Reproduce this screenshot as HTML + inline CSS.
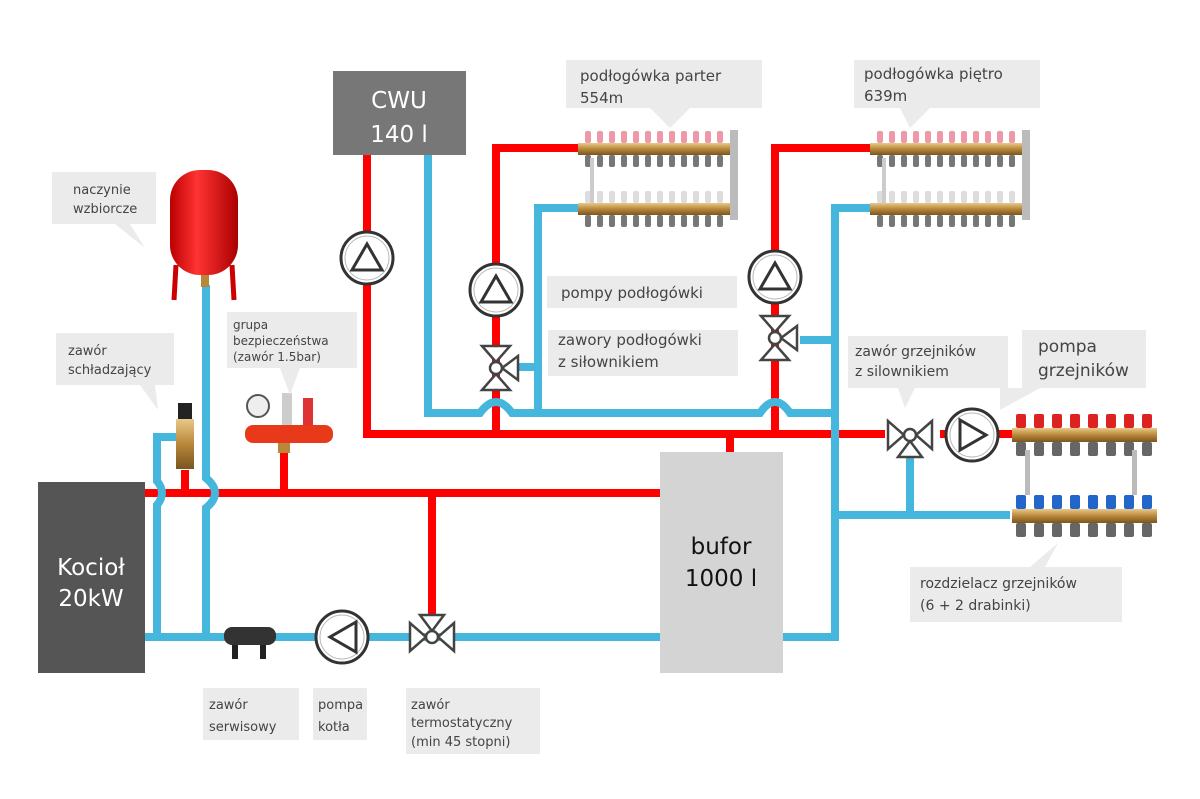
<!DOCTYPE html>
<html><head><meta charset="utf-8"><style>
body{margin:0;background:#fff}
svg{display:block;font-family:"DejaVu Sans","Liberation Sans",sans-serif}
</style></head><body>
<svg width="1200" height="799" viewBox="0 0 1200 799" xmlns="http://www.w3.org/2000/svg">
<defs>
<linearGradient id="brass" x1="0" y1="0" x2="0" y2="1"><stop offset="0" stop-color="#e8c98a"/><stop offset=".5" stop-color="#b8873a"/><stop offset="1" stop-color="#7a5520"/></linearGradient>
<linearGradient id="tank" x1="0" y1="0" x2="1" y2="0"><stop offset="0" stop-color="#b00"/><stop offset=".4" stop-color="#f33"/><stop offset="1" stop-color="#a00"/></linearGradient>
<g id="pump"><circle r="26" fill="#fff" stroke="#333" stroke-width="3"/><circle r="22" fill="none" stroke="#bbb" stroke-width="1"/></g>
<g id="valve" fill="#fff" stroke="#444" stroke-width="2.5"><path d="M-22,-14 L-6,0 L-22,14 Z"/><path d="M22,-14 L6,0 L22,14 Z"/><path d="M-12,22 L0,6 L12,22 Z"/><circle r="6"/></g>
<g id="knobs"><rect x="0" y="0" width="6" height="12" rx="2"/><rect x="12" y="0" width="6" height="12" rx="2"/><rect x="24" y="0" width="6" height="12" rx="2"/><rect x="36" y="0" width="6" height="12" rx="2"/><rect x="48" y="0" width="6" height="12" rx="2"/><rect x="60" y="0" width="6" height="12" rx="2"/><rect x="72" y="0" width="6" height="12" rx="2"/><rect x="84" y="0" width="6" height="12" rx="2"/><rect x="96" y="0" width="6" height="12" rx="2"/><rect x="108" y="0" width="6" height="12" rx="2"/><rect x="120" y="0" width="6" height="12" rx="2"/><rect x="132" y="0" width="6" height="12" rx="2"/></g>
<g id="k8"><rect x="0" y="0" width="10" height="14" rx="2"/><rect x="18" y="0" width="10" height="14" rx="2"/><rect x="36" y="0" width="10" height="14" rx="2"/><rect x="54" y="0" width="10" height="14" rx="2"/><rect x="72" y="0" width="10" height="14" rx="2"/><rect x="90" y="0" width="10" height="14" rx="2"/><rect x="108" y="0" width="10" height="14" rx="2"/><rect x="126" y="0" width="10" height="14" rx="2"/></g>
</defs>
<g fill="none" stroke-width="8">
<g stroke="#f00">
<path d="M145,493 H660"/>
<path d="M432,493 V615"/>
<path d="M284,448 V493"/>
<path d="M185,470 V493"/>
<path d="M367,155 V434 H885"/>
<path d="M730,434 V452"/>
<path d="M496,434 V148 H578"/>
<path d="M775,434 V148 H870"/>
<path d="M940,434 H1012"/>
</g>
<g stroke="#45b6dc">
<path d="M135,637 H660"/>
<path d="M778,637 H835 V410"/>
<path d="M157,637 V505 q10,-12 0,-24 V437 H178"/>
<path d="M206,285 V478 q18,15 0,30 V637"/>
<path d="M428,155 V413 H480 q16,-22 32,0 H760 q15,-22 30,0 H835"/>
<path d="M538,413 V208 H578"/>
<path d="M518,367 H538"/>
<path d="M835,413 V208 H870"/>
<path d="M800,340 H835"/>
<path d="M835,515 H1010"/>
<path d="M910,455 V515"/>
</g>
</g>
<rect x="38" y="482" width="107" height="191" fill="#555"/>
<text x="91" y="575" fill="#fff" font-size="23" text-anchor="middle">Kocioł</text>
<text x="91" y="606" fill="#fff" font-size="23" text-anchor="middle">20kW</text>
<rect x="333" y="71" width="133" height="84" fill="#777"/>
<text x="399" y="108" fill="#fff" font-size="23" text-anchor="middle">CWU</text>
<text x="399" y="142" fill="#fff" font-size="23" text-anchor="middle">140 l</text>
<rect x="660" y="452" width="123" height="221" fill="#d4d4d4"/>
<text x="721" y="554" fill="#111" font-size="23" text-anchor="middle">bufor</text>
<text x="721" y="586" fill="#111" font-size="23" text-anchor="middle">1000 l</text>
<rect x="170" y="170" width="68" height="105" rx="30" fill="url(#tank)"/>
<path d="M176,265 L174,300 M232,265 L234,300" stroke="#c00" stroke-width="5"/>
<rect x="201" y="275" width="8" height="12" fill="#b8873a"/>
<rect x="178" y="403" width="14" height="16" fill="#222"/>
<rect x="176" y="419" width="18" height="50" fill="url(#brass)"/>
<rect x="245" y="425" width="88" height="18" rx="8" fill="#e83a1a"/>
<circle cx="258" cy="406" r="11" fill="#eee" stroke="#555" stroke-width="2"/>
<rect x="282" y="393" width="10" height="32" fill="#ccc"/>
<rect x="303" y="398" width="10" height="27" fill="#d33"/>
<rect x="278" y="443" width="12" height="10" fill="#b8873a"/>
<rect x="224" y="627" width="52" height="18" rx="8" fill="#333"/>
<rect x="232" y="645" width="6" height="14" fill="#222"/><rect x="260" y="645" width="6" height="14" fill="#222"/>
<use href="#pump" x="367" y="258"/><path d="M352,270 L367,244 L382,270 Z" fill="none" stroke="#333" stroke-width="3"/>
<use href="#pump" x="496" y="290"/><path d="M481,302 L496,276 L511,302 Z" fill="none" stroke="#333" stroke-width="3"/>
<use href="#pump" x="775" y="277"/><path d="M760,289 L775,263 L790,289 Z" fill="none" stroke="#333" stroke-width="3"/>
<use href="#pump" x="972" y="435"/><path d="M960,420 L986,435 L960,450 Z" fill="none" stroke="#333" stroke-width="3"/>
<use href="#pump" x="342" y="637"/><path d="M356,622 L330,637 L356,652 Z" fill="none" stroke="#333" stroke-width="3"/>
<g transform="translate(496,368) rotate(-90)"><use href="#valve"/></g>
<g transform="translate(775,338) rotate(-90)"><use href="#valve"/></g>
<g transform="translate(910,435)"><use href="#valve"/></g>
<g transform="translate(432,637)"><use href="#valve" transform="scale(1,-1)"/></g>
<g id="mf1">
<rect x="578" y="143" width="155" height="12" fill="url(#brass)"/>
<rect x="578" y="203" width="155" height="12" fill="url(#brass)"/>
<rect x="730" y="130" width="8" height="90" fill="#bbb"/>
<use href="#knobs" x="585" y="131" fill="#e9a"/>
<use href="#knobs" x="585" y="191" fill="#ddd"/>
<use href="#knobs" x="585" y="155" fill="#777"/>
<use href="#knobs" x="585" y="215" fill="#777"/>
<rect x="590" y="158" width="4" height="45" fill="#ccc"/>
</g>
<use href="#mf1" x="292" y="0"/>
<rect x="1012" y="428" width="145" height="14" fill="url(#brass)"/>
<rect x="1012" y="509" width="145" height="14" fill="url(#brass)"/>
<use href="#k8" x="1016" y="414" fill="#d22"/>
<use href="#k8" x="1016" y="495" fill="#2266cc"/>
<use href="#k8" x="1016" y="442" fill="#666"/>
<use href="#k8" x="1016" y="523" fill="#666"/>
<rect x="1025" y="450" width="5" height="45" fill="#bbb"/><rect x="1132" y="450" width="5" height="45" fill="#bbb"/>
<g fill="#ebebeb">
<rect x="52" y="172" width="104" height="52"/><path d="M115,224 L145,248 L130,224Z"/>
<rect x="56" y="333" width="118" height="52"/><path d="M140,385 L158,410 L155,385Z"/>
<rect x="227" y="312" width="130" height="56"/><path d="M280,368 L290,395 L300,368Z"/>
<rect x="566" y="60" width="196" height="48"/><path d="M650,108 L670,128 L690,108Z"/>
<rect x="854" y="60" width="186" height="48"/><path d="M900,108 L910,128 L930,108Z"/>
<rect x="547" y="276" width="190" height="32"/>
<rect x="548" y="330" width="190" height="46"/>
<rect x="848" y="336" width="160" height="52"/><path d="M898,388 L905,408 L915,388Z"/>
<rect x="1022" y="330" width="124" height="58"/><path d="M1000,388 L1000,410 L1040,388Z"/>
<rect x="910" y="567" width="212" height="55"/><path d="M1030,567 L1058,543 L1045,567Z"/>
<rect x="203" y="688" width="96" height="52"/>
<rect x="313" y="688" width="54" height="52"/>
<rect x="406" y="688" width="134" height="66"/>
</g>
<g fill="#444" font-size="13">
<text x="73" y="194">naczynie</text><text x="73" y="213">wzbiorcze</text>
<text x="68" y="355">zawór</text><text x="68" y="374">schładzający</text>
<text x="233" y="329" font-size="12">grupa</text><text x="233" y="345" font-size="12">bezpieczeństwa</text><text x="233" y="361" font-size="12">(zawór 1.5bar)</text>
<text x="580" y="81" font-size="15">podłogówka parter</text><text x="580" y="103" font-size="15">554m</text>
<text x="864" y="79" font-size="15">podłogówka piętro</text><text x="864" y="101" font-size="15">639m</text>
<text x="561" y="298" font-size="15">pompy podłogówki</text>
<text x="558" y="345" font-size="15">zawory podłogówki</text><text x="558" y="367" font-size="15">z siłownikiem</text>
<text x="855" y="356" font-size="14">zawór grzejników</text><text x="855" y="376" font-size="14">z silownikiem</text>
<text x="1038" y="352" font-size="17">pompa</text><text x="1038" y="376" font-size="17">grzejników</text>
<text x="920" y="588" font-size="14">rozdzielacz grzejników</text><text x="920" y="610" font-size="14">(6 + 2 drabinki)</text>
<text x="209" y="709">zawór</text><text x="209" y="731">serwisowy</text>
<text x="318" y="709">pompa</text><text x="318" y="731">kotła</text>
<text x="411" y="709">zawór</text><text x="411" y="727">termostatyczny</text><text x="411" y="746">(min 45 stopni)</text>
</g>
</svg>
</body></html>
